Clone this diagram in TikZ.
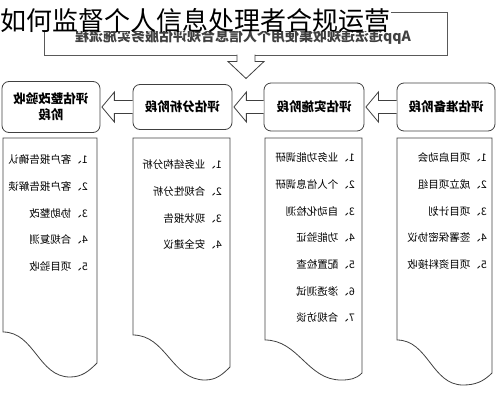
\documentclass[tikz,border=0pt]{standalone}
\usepackage{fontspec}
\newfontfamily\cjk{Noto Sans CJK SC}
\usetikzlibrary{calc}

\tikzset{
  stagebox/.style={draw=black!75, line width=0.8pt, rounded corners=7pt,
    minimum width=98pt, minimum height=48pt, align=center, inner sep=2pt,
    font=\cjk\fontsize{12.5}{16}\selectfont\bfseries},
  listitem/.style={anchor=west, inner sep=0pt, font=\cjk\fontsize{10.5}{12}\selectfont},
  docline/.style={draw=black!75, line width=0.8pt},
  hollow/.style={draw=black!75, line width=0.8pt, fill=white},
}

% hollow block arrow from one stage box to the next
\newcommand{\stagearrow}[2]{%
  \draw[hollow] ($(#1.east)+(0,6.5)$) -- ($(#2.west)+(-14,6.5)$) -- ($(#2.west)+(-14,15)$)
    -- ($(#2.west)+(-1.5,0)$) -- ($(#2.west)+(-14,-15)$) -- ($(#2.west)+(-14,-6.5)$)
    -- ($(#1.east)+(0,-6.5)$);}

\begin{document}
\begin{tikzpicture}[x=1pt,y=1pt]
\begin{scope}[xscale=-1, transform shape]
  \useasboundingbox (0,0) rectangle (497,400);

  % banner and down arrow
  \node[draw=black!65, line width=1pt, minimum width=402pt, minimum height=42pt] (banner) at (251,366) {};
  \node[text=black!75, font=\cjk\fontsize{14}{16}\selectfont\bfseries] (bannertext)
    at ($(banner.center)+(3,-3)$) {App违法违规收集使用个人信息合规评估服务实施流程};
  \draw[hollow] ($(banner.south)+(9,1)$) -- ++(0,-7) -- ++(9,0) -- ($(banner.south)+(0,-23)$)
    -- ++(-18,17) -- ++(9,0) -- ++(0,7);

  % stages
  \node[stagebox] (prep) at (51,293) {评估准备阶段};
  \node[stagebox, minimum width=100pt] (impl) at (183,293) {评估实施阶段};
  \node[stagebox, minimum width=99pt, minimum height=45pt] (anal) at (314.5,293) {评估分析阶段};
  \node[stagebox, minimum height=51pt] (rect) at (446,293) {评估整改验收\\阶段};

  \stagearrow{prep}{impl}
  \stagearrow{impl}{anal}
  \stagearrow{anal}{rect}

  % list columns with wavy bottom
  \foreach \l/\r/\yl/\dx/\dy/\yr in {5/100/27/34/15/60, 135/232/27/156/20/60,
      267/364/33/292/20/65, 400/494/37/427/23/68}
    \draw[docline] (\l,\yl) -- (\l,262) -- (\r,262) -- (\r,\yr)
      to[out=180,in=0] (\dx,\dy) to[out=180,in=-45] (\l,\yl);

  \foreach \t [count=\i] in {项目启动会, 成立项目组, 项目计划, 签署保密协议, 项目资料接收}
    \node[listitem] (prep-\i) at (10,{268.6-26.6*\i}) {\i、\t};
  \foreach \t [count=\i] in {业务功能调研, 个人信息调研, 自动化检测, 功能验证,
      配置检查, 渗透测试, 合规访谈}
    \node[listitem] (impl-\i) at (142,{268.6-26.6*\i}) {\i、\t};
  \foreach \t [count=\i] in {业务结构分析, 合规性分析, 现状报告, 安全建议}
    \node[listitem] (anal-\i) at (275,{261.6-26.6*\i}) {\i、\t};
  \foreach \t [count=\i] in {客户报告确认, 客户报告解读, 协助整改, 合规复测, 项目验收}
    \node[listitem] (rect-\i) at (409,{266.6-26.6*\i}) {\i、\t};
\end{scope}

% title on top
\node[anchor=west, fill=white, inner sep=0.5pt, text depth=0pt,
  font=\cjk\fontsize{26}{28}\selectfont] (title) at (-497,381) {如何监督个人信息处理者合规运营};
\end{tikzpicture}
\end{document}
